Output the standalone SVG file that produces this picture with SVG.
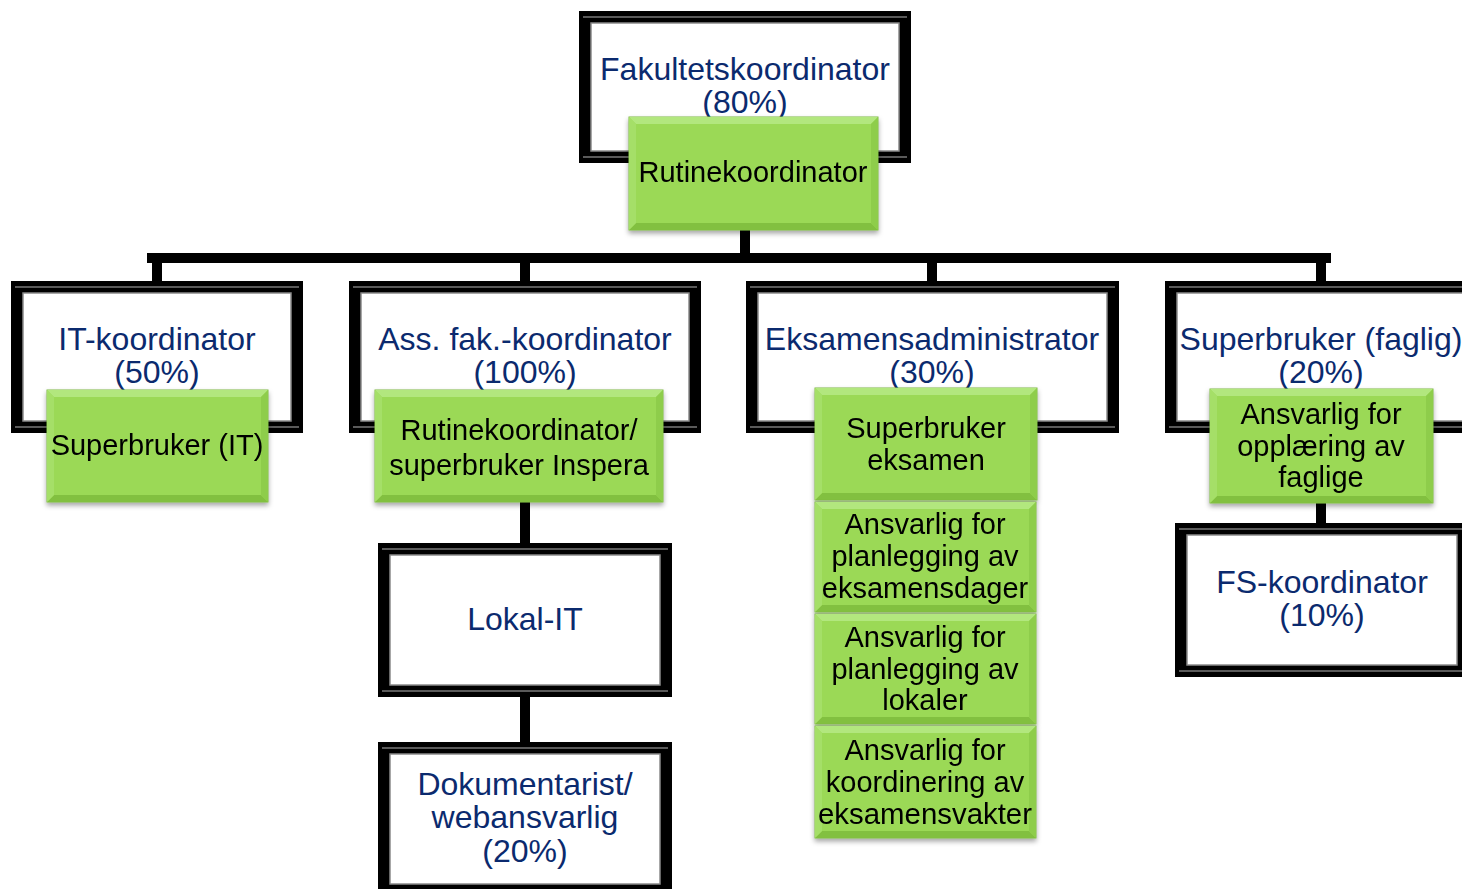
<svg xmlns="http://www.w3.org/2000/svg" width="1462" height="889" viewBox="0 0 1462 889">
<style>
.fo{fill:#000}
.fi{fill:#fff;stroke:#8a8a8a;stroke-width:1.5}
.hl{stroke:#5a5a5a;stroke-width:2;fill:none}
.gm{fill:#9bd957;stroke:#7fb843;stroke-width:1}
.bt{fill:#b2e77e}
.bb{fill:#82c03f}
.bl{fill:#a5df68}
.br{fill:#8ecd4b}
.tn{font-family:"Liberation Sans",Arial,sans-serif;font-size:32px;fill:#0b2a6e;text-anchor:middle}
.tg{font-family:"Liberation Sans",Arial,sans-serif;font-size:29px;fill:#000;text-anchor:middle}
.cn{stroke:#000;stroke-width:10;fill:none}
</style>
<defs>
<filter id="sh" x="-10%" y="-10%" width="120%" height="130%">
<feDropShadow dx="0" dy="3" stdDeviation="2.5" flood-color="#000" flood-opacity="0.35"/>
</filter>
</defs>
<rect width="1462" height="889" fill="#fff"/>
<g id="connectors">
<path class="cn" d="M745 230 V258"/>
<path class="cn" d="M152 263 V258 H1326 V263"/>
<path class="cn" d="M157 258 V283"/>
<path class="cn" d="M525 258 V283"/>
<path class="cn" d="M932 258 V283"/>
<path class="cn" d="M1321 258 V283"/>
<path class="cn" d="M525 502 V545"/>
<path class="cn" d="M525 697 V744"/>
<path class="cn" d="M1321 503 V525"/>
</g>
<g id="fakultetskoordinator">
<rect class="fo" x="579" y="11" width="332" height="152"/>
<path class="hl" d="M583 17 H907 M583 157 H907"/>
<rect class="fi" x="591" y="23" width="308" height="128"/>
<text class="tn" x="745" y="80">Fakultetskoordinator</text>
<text class="tn" x="745" y="113">(80%)</text>
</g>
<g id="rutinekoordinator" filter="url(#sh)">
<rect class="gm" x="629" y="117" width="249" height="113"/>
<polygon class="bt" points="629,117 878,117 871,124 636,124"/>
<polygon class="bb" points="629,230 878,230 871,223 636,223"/>
<polygon class="bl" points="629,117 636,124 636,223 629,230"/>
<polygon class="br" points="878,117 871,124 871,223 878,230"/>
<text class="tg" x="753" y="182">Rutinekoordinator</text>
</g>
<g id="it-koordinator">
<rect class="fo" x="11" y="281" width="292" height="152"/>
<path class="hl" d="M15 287 H299 M15 427 H299"/>
<rect class="fi" x="23" y="293" width="268" height="128"/>
<text class="tn" x="157" y="350">IT-koordinator</text>
<text class="tn" x="157" y="383">(50%)</text>
</g>
<g id="superbruker-it" filter="url(#sh)">
<rect class="gm" x="47" y="390" width="221" height="112"/>
<polygon class="bt" points="47,390 268,390 261,397 54,397"/>
<polygon class="bb" points="47,502 268,502 261,495 54,495"/>
<polygon class="bl" points="47,390 54,397 54,495 47,502"/>
<polygon class="br" points="268,390 261,397 261,495 268,502"/>
<text class="tg" x="157" y="455">Superbruker (IT)</text>
</g>
<g id="ass-fak-koordinator">
<rect class="fo" x="349" y="281" width="352" height="152"/>
<path class="hl" d="M353 287 H697 M353 427 H697"/>
<rect class="fi" x="361" y="293" width="328" height="128"/>
<text class="tn" x="525" y="350">Ass. fak.-koordinator</text>
<text class="tn" x="525" y="383">(100%)</text>
</g>
<g id="rutinekoordinator-inspera" filter="url(#sh)">
<rect class="gm" x="375" y="390" width="288" height="112"/>
<polygon class="bt" points="375,390 663,390 656,397 382,397"/>
<polygon class="bb" points="375,502 663,502 656,495 382,495"/>
<polygon class="bl" points="375,390 382,397 382,495 375,502"/>
<polygon class="br" points="663,390 656,397 656,495 663,502"/>
<text class="tg" x="519" y="440">Rutinekoordinator/</text>
<text class="tg" x="519" y="475">superbruker Inspera</text>
</g>
<g id="lokal-it">
<rect class="fo" x="378" y="543" width="294" height="154"/>
<path class="hl" d="M382 549 H668 M382 691 H668"/>
<rect class="fi" x="390" y="555" width="270" height="130"/>
<text class="tn" x="525" y="630">Lokal-IT</text>
</g>
<g id="dokumentarist">
<rect class="fo" x="378" y="742" width="294" height="154"/>
<path class="hl" d="M382 748 H668"/>
<rect class="fi" x="390" y="754" width="270" height="130"/>
<text class="tn" x="525" y="795">Dokumentarist/</text>
<text class="tn" x="525" y="828">webansvarlig</text>
<text class="tn" x="525" y="862">(20%)</text>
</g>
<g id="eksamensadministrator">
<rect class="fo" x="746" y="281" width="373" height="152"/>
<path class="hl" d="M750 287 H1115 M750 427 H1115"/>
<rect class="fi" x="758" y="293" width="349" height="128"/>
<text class="tn" x="932" y="350">Eksamensadministrator</text>
<text class="tn" x="932" y="383">(30%)</text>
</g>
<g id="superbruker-eksamen" filter="url(#sh)">
<rect class="gm" x="815" y="388" width="222" height="112"/>
<polygon class="bt" points="815,388 1037,388 1030,395 822,395"/>
<polygon class="bb" points="815,500 1037,500 1030,493 822,493"/>
<polygon class="bl" points="815,388 822,395 822,493 815,500"/>
<polygon class="br" points="1037,388 1030,395 1030,493 1037,500"/>
<text class="tg" x="926" y="438">Superbruker</text>
<text class="tg" x="926" y="470">eksamen</text>
</g>
<g id="planlegging-eksamensdager" filter="url(#sh)">
<rect class="gm" x="815" y="502" width="221" height="110"/>
<polygon class="bt" points="815,502 1036,502 1029,509 822,509"/>
<polygon class="bb" points="815,612 1036,612 1029,605 822,605"/>
<polygon class="bl" points="815,502 822,509 822,605 815,612"/>
<polygon class="br" points="1036,502 1029,509 1029,605 1036,612"/>
<text class="tg" x="925" y="534">Ansvarlig for</text>
<text class="tg" x="925" y="566">planlegging av</text>
<text class="tg" x="925" y="598">eksamensdager</text>
</g>
<g id="planlegging-lokaler" filter="url(#sh)">
<rect class="gm" x="815" y="614" width="221" height="110"/>
<polygon class="bt" points="815,614 1036,614 1029,621 822,621"/>
<polygon class="bb" points="815,724 1036,724 1029,717 822,717"/>
<polygon class="bl" points="815,614 822,621 822,717 815,724"/>
<polygon class="br" points="1036,614 1029,621 1029,717 1036,724"/>
<text class="tg" x="925" y="647">Ansvarlig for</text>
<text class="tg" x="925" y="679">planlegging av</text>
<text class="tg" x="925" y="710">lokaler</text>
</g>
<g id="koordinering-eksamensvakter" filter="url(#sh)">
<rect class="gm" x="815" y="726" width="221" height="112"/>
<polygon class="bt" points="815,726 1036,726 1029,733 822,733"/>
<polygon class="bb" points="815,838 1036,838 1029,831 822,831"/>
<polygon class="bl" points="815,726 822,733 822,831 815,838"/>
<polygon class="br" points="1036,726 1029,733 1029,831 1036,838"/>
<text class="tg" x="925" y="760">Ansvarlig for</text>
<text class="tg" x="925" y="792">koordinering av</text>
<text class="tg" x="925" y="824" textLength="214" lengthAdjust="spacingAndGlyphs">eksamensvakter</text>
</g>
<g id="superbruker-faglig">
<rect class="fo" x="1165" y="281" width="312" height="152"/>
<path class="hl" d="M1169 287 H1473 M1169 427 H1473"/>
<rect class="fi" x="1177" y="293" width="288" height="128"/>
<text class="tn" x="1321" y="350">Superbruker (faglig)</text>
<text class="tn" x="1321" y="383">(20%)</text>
</g>
<g id="opplaering-faglige" filter="url(#sh)">
<rect class="gm" x="1210" y="389" width="223" height="114"/>
<polygon class="bt" points="1210,389 1433,389 1426,396 1217,396"/>
<polygon class="bb" points="1210,503 1433,503 1426,496 1217,496"/>
<polygon class="bl" points="1210,389 1217,396 1217,496 1210,503"/>
<polygon class="br" points="1433,389 1426,396 1426,496 1433,503"/>
<text class="tg" x="1321" y="424">Ansvarlig for</text>
<text class="tg" x="1321" y="456">opplæring av</text>
<text class="tg" x="1321" y="487">faglige</text>
</g>
<g id="fs-koordinator">
<rect class="fo" x="1175" y="523" width="294" height="154"/>
<path class="hl" d="M1179 529 H1465 M1179 671 H1465"/>
<rect class="fi" x="1187" y="535" width="270" height="130"/>
<text class="tn" x="1322" y="593">FS-koordinator</text>
<text class="tn" x="1322" y="626">(10%)</text>
</g>
</svg>
